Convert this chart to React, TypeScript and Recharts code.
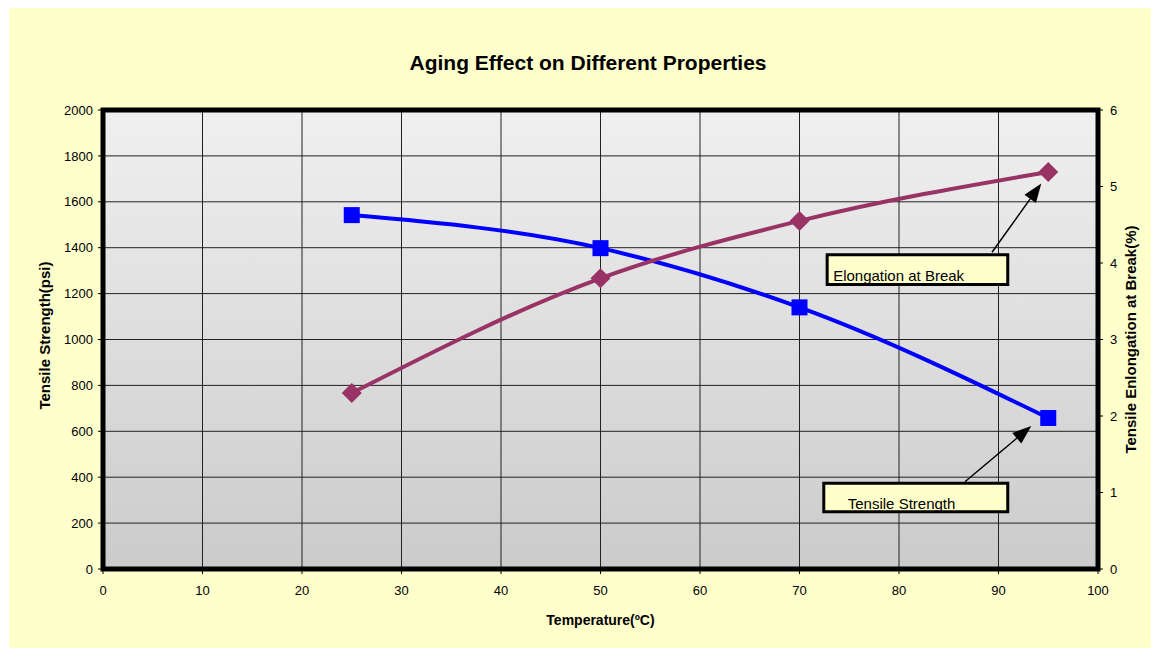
import {
  LineChart, Line, XAxis, YAxis, CartesianGrid, ReferenceArea, ReferenceLine,
} from "recharts";

const temperatures = [25, 50, 70, 95];
const tensileStrength = [1542, 1398, 1140, 658];
const elongation = [2.3, 3.8, 4.55, 5.19];

const xTicks = [0, 10, 20, 30, 40, 50, 60, 70, 80, 90, 100];
const leftTicks = [0, 200, 400, 600, 800, 1000, 1200, 1400, 1600, 1800, 2000];
const rightTicks = [0, 1, 2, 3, 4, 5, 6];

const data = temperatures.map((t, i) => ({
  temp: t,
  tensile: tensileStrength[i],
  elong: elongation[i],
}));

const FONT = "'Liberation Sans', Arial, sans-serif";
const tickStyle = { fontSize: 13, fill: "#000", fontFamily: FONT };

function SquareDot(props: any) {
  const { cx, cy } = props;
  if (cx == null || cy == null) return null;
  return <rect x={cx - 8} y={cy - 8} width={16} height={16} fill="#0000FF" />;
}

function DiamondDot(props: any) {
  const { cx, cy } = props;
  if (cx == null || cy == null) return null;
  const r = 10;
  return (
    <polygon
      points={`${cx},${cy - r} ${cx + r},${cy} ${cx},${cy + r} ${cx - r},${cy}`}
      fill="#993366"
    />
  );
}

// line with a filled arrowhead at the (x2, y2) end
function Arrow(props: any) {
  const { x1, y1, x2, y2 } = props;
  if ([x1, y1, x2, y2].some((v) => v == null || isNaN(v))) return null;
  const ang = Math.atan2(y2 - y1, x2 - x1);
  const len = 19;
  const half = 7;
  const bx = x2 - len * Math.cos(ang);
  const by = y2 - len * Math.sin(ang);
  const px = -Math.sin(ang) * half;
  const py = Math.cos(ang) * half;
  return (
    <g>
      <line x1={x1} y1={y1} x2={bx} y2={by} stroke="#000" strokeWidth={1.5} />
      <polygon
        points={`${x2},${y2} ${bx + px},${by + py} ${bx - px},${by - py}`}
        fill="#000"
      />
    </g>
  );
}

const boxText = (text: string, dx: number, dyFromBottom: number) => (props: any) => {
  const vb = props.viewBox;
  if (!vb) return null;
  return (
    <text
      x={vb.x + dx}
      y={vb.y + vb.height - dyFromBottom}
      fontSize={15}
      fontFamily={FONT}
      fill="#000"
    >
      {text}
    </text>
  );
};

const axisTitle = (size: number) => ({
  fontSize: size,
  fontWeight: "bold",
  fill: "#000",
  fontFamily: FONT,
});

export default function App() {
  return (
    <div
      style={{
        position: "relative",
        marginLeft: 1,
        width: 1150,
        height: 640,
        background: "#FFFFCC",
        fontFamily: FONT,
      }}
    >
      <svg width={0} height={0} style={{ position: "absolute" }}>
        <defs>
          <linearGradient id="plotGrad" x1="0" y1="0" x2="0" y2="1">
            <stop offset="0%" stopColor="#F0F0F0" />
            <stop offset="100%" stopColor="#CBCBCB" />
          </linearGradient>
        </defs>
      </svg>
      <div
        style={{
          position: "absolute",
          left: 0,
          width: 1158,
          top: 43,
          textAlign: "center",
          fontSize: 21,
          fontWeight: "bold",
          color: "#000",
        }}
      >
        Aging Effect on Different Properties
      </div>
      <LineChart
        width={1150}
        height={640}
        data={data}
        margin={{ top: 102, right: 0, bottom: 0, left: 0 }}
      >
        <CartesianGrid
          yAxisId="left"
          stroke="#222"
          strokeWidth={1}
          fill="url(#plotGrad)"
          fillOpacity={1}
        />
        <XAxis
          dataKey="temp"
          type="number"
          domain={[0, 100]}
          ticks={xTicks}
          height={79}
          axisLine={false}
          tickLine={{ stroke: "#000" }}
          tickSize={5}
          tickMargin={12}
          tick={tickStyle}
          label={{
            value: "Temperature(ºC)",
            position: "center",
            dy: 12,
            style: axisTitle(14),
          }}
        />
        <YAxis
          yAxisId="left"
          domain={[0, 2000]}
          ticks={leftTicks}
          width={94}
          axisLine={false}
          tickLine={{ stroke: "#000" }}
          tickSize={5}
          tickMargin={5}
          tick={tickStyle}
          label={{
            value: "Tensile Strength(psi)",
            angle: -90,
            position: "center",
            dx: -11,
            dy: -4,
            style: axisTitle(15),
          }}
        />
        <YAxis
          yAxisId="right"
          orientation="right"
          domain={[0, 6]}
          ticks={rightTicks}
          width={61}
          axisLine={false}
          tickLine={{ stroke: "#000" }}
          tickSize={5}
          tickMargin={7}
          tick={tickStyle}
          label={{
            value: "Tensile Enlongation at Break(%)",
            angle: -90,
            position: "center",
            dx: 2,
            style: axisTitle(15),
          }}
        />
        <ReferenceArea
          yAxisId="left"
          x1={0}
          x2={100}
          y1={0}
          y2={2000}
          fill="none"
          fillOpacity={0}
          stroke="#000"
          strokeWidth={5}
          strokeOpacity={1}
          ifOverflow="visible"
        />
        <Line
          yAxisId="left"
          type="monotone"
          dataKey="tensile"
          stroke="#0000FF"
          strokeWidth={4}
          dot={<SquareDot />}
          activeDot={false}
          isAnimationActive={false}
        />
        <Line
          yAxisId="right"
          type="monotone"
          dataKey="elong"
          stroke="#993366"
          strokeWidth={4}
          dot={<DiamondDot />}
          activeDot={false}
          isAnimationActive={false}
        />
        <ReferenceArea
          yAxisId="left"
          x1={72.78}
          x2={90.93}
          y1={1240}
          y2={1369}
          fill="#FFFFCC"
          fillOpacity={1}
          stroke="#000"
          strokeWidth={3}
          strokeOpacity={1}
          label={{ content: boxText("Elongation at Break", 6, 3) }}
        />
        <ReferenceArea
          yAxisId="left"
          x1={72.44}
          x2={90.93}
          y1={249}
          y2={374}
          fill="#FFFFCC"
          fillOpacity={1}
          stroke="#000"
          strokeWidth={3}
          strokeOpacity={1}
          label={{ content: boxText("Tensile Strength", 24, 3) }}
        />
        <ReferenceLine
          yAxisId="left"
          segment={[{ x: 89.35, y: 1380 }, { x: 94.3, y: 1680 }]}
          shape={Arrow}
          ifOverflow="visible"
        />
        <ReferenceLine
          yAxisId="left"
          segment={[{ x: 86.63, y: 380 }, { x: 93.3, y: 623 }]}
          shape={Arrow}
          ifOverflow="visible"
        />
      </LineChart>
    </div>
  );
}
